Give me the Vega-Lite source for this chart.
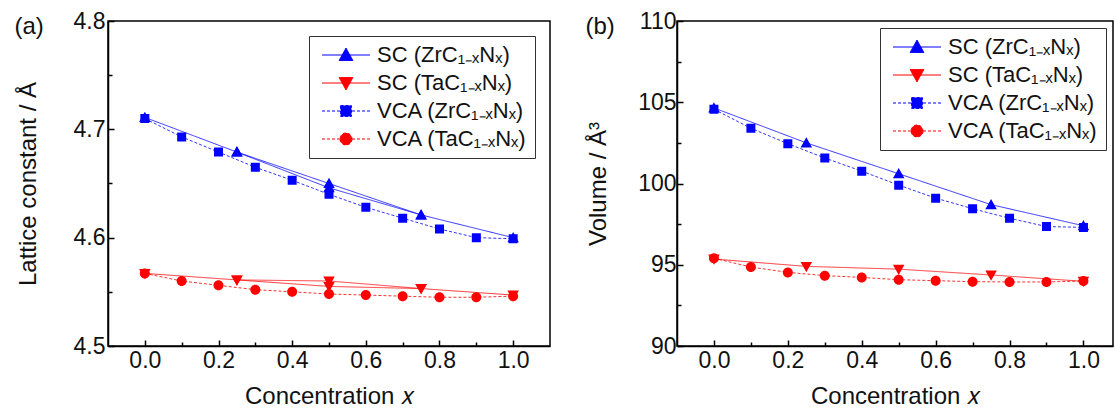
{
  "$schema": "https://vega.github.io/schema/vega-lite/v6.json",
  "padding": {"left": 13, "top": 9, "right": 0, "bottom": 0},
  "spacing": 33,
  "datasets": {
    "a": [
      {"s": "SC (ZrC₁₋ₓNₓ)", "x": 0, "y": 4.711, "p": 1},
      {"s": "SC (ZrC₁₋ₓNₓ)", "x": 0.25, "y": 4.679, "p": 1},
      {"s": "SC (ZrC₁₋ₓNₓ)", "x": 0.5, "y": 4.650, "p": 1},
      {"s": "SC (ZrC₁₋ₓNₓ)", "x": 0.75, "y": 4.621, "p": 1},
      {"s": "SC (ZrC₁₋ₓNₓ)", "x": 1, "y": 4.600, "p": 1},
      {"s": "SC (ZrC₁₋ₓNₓ)", "x": 0.25, "y": 4.679, "p": 2},
      {"s": "SC (ZrC₁₋ₓNₓ)", "x": 0.5, "y": 4.646, "p": 2},
      {"s": "SC (ZrC₁₋ₓNₓ)", "x": 0.75, "y": 4.621, "p": 2},
      {"s": "SC (TaC₁₋ₓNₓ)", "x": 0, "y": 4.567, "p": 1},
      {"s": "SC (TaC₁₋ₓNₓ)", "x": 0.25, "y": 4.561, "p": 1},
      {"s": "SC (TaC₁₋ₓNₓ)", "x": 0.5, "y": 4.560, "p": 1},
      {"s": "SC (TaC₁₋ₓNₓ)", "x": 0.75, "y": 4.553, "p": 1},
      {"s": "SC (TaC₁₋ₓNₓ)", "x": 1, "y": 4.547, "p": 1},
      {"s": "SC (TaC₁₋ₓNₓ)", "x": 0.25, "y": 4.561, "p": 2},
      {"s": "SC (TaC₁₋ₓNₓ)", "x": 0.5, "y": 4.555, "p": 2},
      {"s": "SC (TaC₁₋ₓNₓ)", "x": 0.75, "y": 4.553, "p": 2},
      {"s": "VCA (ZrC₁₋ₓNₓ)", "x": 0, "y": 4.710, "p": 1},
      {"s": "VCA (ZrC₁₋ₓNₓ)", "x": 0.1, "y": 4.693, "p": 1},
      {"s": "VCA (ZrC₁₋ₓNₓ)", "x": 0.2, "y": 4.679, "p": 1},
      {"s": "VCA (ZrC₁₋ₓNₓ)", "x": 0.3, "y": 4.665, "p": 1},
      {"s": "VCA (ZrC₁₋ₓNₓ)", "x": 0.4, "y": 4.653, "p": 1},
      {"s": "VCA (ZrC₁₋ₓNₓ)", "x": 0.5, "y": 4.640, "p": 1},
      {"s": "VCA (ZrC₁₋ₓNₓ)", "x": 0.6, "y": 4.628, "p": 1},
      {"s": "VCA (ZrC₁₋ₓNₓ)", "x": 0.7, "y": 4.618, "p": 1},
      {"s": "VCA (ZrC₁₋ₓNₓ)", "x": 0.8, "y": 4.608, "p": 1},
      {"s": "VCA (ZrC₁₋ₓNₓ)", "x": 0.9, "y": 4.600, "p": 1},
      {"s": "VCA (ZrC₁₋ₓNₓ)", "x": 1, "y": 4.599, "p": 1},
      {"s": "VCA (TaC₁₋ₓNₓ)", "x": 0, "y": 4.567, "p": 1},
      {"s": "VCA (TaC₁₋ₓNₓ)", "x": 0.1, "y": 4.560, "p": 1},
      {"s": "VCA (TaC₁₋ₓNₓ)", "x": 0.2, "y": 4.556, "p": 1},
      {"s": "VCA (TaC₁₋ₓNₓ)", "x": 0.3, "y": 4.552, "p": 1},
      {"s": "VCA (TaC₁₋ₓNₓ)", "x": 0.4, "y": 4.550, "p": 1},
      {"s": "VCA (TaC₁₋ₓNₓ)", "x": 0.5, "y": 4.548, "p": 1},
      {"s": "VCA (TaC₁₋ₓNₓ)", "x": 0.6, "y": 4.547, "p": 1},
      {"s": "VCA (TaC₁₋ₓNₓ)", "x": 0.7, "y": 4.546, "p": 1},
      {"s": "VCA (TaC₁₋ₓNₓ)", "x": 0.8, "y": 4.545, "p": 1},
      {"s": "VCA (TaC₁₋ₓNₓ)", "x": 0.9, "y": 4.545, "p": 1},
      {"s": "VCA (TaC₁₋ₓNₓ)", "x": 1, "y": 4.546, "p": 1}
    ],
    "b": [
      {"s": "SC (ZrC₁₋ₓNₓ)", "x": 0, "y": 104.65, "p": 1},
      {"s": "SC (ZrC₁₋ₓNₓ)", "x": 0.25, "y": 102.5, "p": 1},
      {"s": "SC (ZrC₁₋ₓNₓ)", "x": 0.5, "y": 100.6, "p": 1},
      {"s": "SC (ZrC₁₋ₓNₓ)", "x": 0.75, "y": 98.7, "p": 1},
      {"s": "SC (ZrC₁₋ₓNₓ)", "x": 1, "y": 97.4, "p": 1},
      {"s": "SC (TaC₁₋ₓNₓ)", "x": 0, "y": 95.35, "p": 1},
      {"s": "SC (TaC₁₋ₓNₓ)", "x": 0.25, "y": 94.9, "p": 1},
      {"s": "SC (TaC₁₋ₓNₓ)", "x": 0.5, "y": 94.73, "p": 1},
      {"s": "SC (TaC₁₋ₓNₓ)", "x": 0.75, "y": 94.37, "p": 1},
      {"s": "SC (TaC₁₋ₓNₓ)", "x": 1, "y": 93.98, "p": 1},
      {"s": "VCA (ZrC₁₋ₓNₓ)", "x": 0, "y": 104.57, "p": 1},
      {"s": "VCA (ZrC₁₋ₓNₓ)", "x": 0.1, "y": 103.4, "p": 1},
      {"s": "VCA (ZrC₁₋ₓNₓ)", "x": 0.2, "y": 102.45, "p": 1},
      {"s": "VCA (ZrC₁₋ₓNₓ)", "x": 0.3, "y": 101.57, "p": 1},
      {"s": "VCA (ZrC₁₋ₓNₓ)", "x": 0.4, "y": 100.76, "p": 1},
      {"s": "VCA (ZrC₁₋ₓNₓ)", "x": 0.5, "y": 99.9, "p": 1},
      {"s": "VCA (ZrC₁₋ₓNₓ)", "x": 0.6, "y": 99.1, "p": 1},
      {"s": "VCA (ZrC₁₋ₓNₓ)", "x": 0.7, "y": 98.45, "p": 1},
      {"s": "VCA (ZrC₁₋ₓNₓ)", "x": 0.8, "y": 97.86, "p": 1},
      {"s": "VCA (ZrC₁₋ₓNₓ)", "x": 0.9, "y": 97.35, "p": 1},
      {"s": "VCA (ZrC₁₋ₓNₓ)", "x": 1, "y": 97.3, "p": 1},
      {"s": "VCA (TaC₁₋ₓNₓ)", "x": 0, "y": 95.4, "p": 1},
      {"s": "VCA (TaC₁₋ₓNₓ)", "x": 0.1, "y": 94.86, "p": 1},
      {"s": "VCA (TaC₁₋ₓNₓ)", "x": 0.2, "y": 94.53, "p": 1},
      {"s": "VCA (TaC₁₋ₓNₓ)", "x": 0.3, "y": 94.33, "p": 1},
      {"s": "VCA (TaC₁₋ₓNₓ)", "x": 0.4, "y": 94.22, "p": 1},
      {"s": "VCA (TaC₁₋ₓNₓ)", "x": 0.5, "y": 94.08, "p": 1},
      {"s": "VCA (TaC₁₋ₓNₓ)", "x": 0.6, "y": 94.02, "p": 1},
      {"s": "VCA (TaC₁₋ₓNₓ)", "x": 0.7, "y": 93.96, "p": 1},
      {"s": "VCA (TaC₁₋ₓNₓ)", "x": 0.8, "y": 93.94, "p": 1},
      {"s": "VCA (TaC₁₋ₓNₓ)", "x": 0.9, "y": 93.94, "p": 1},
      {"s": "VCA (TaC₁₋ₓNₓ)", "x": 1, "y": 94.0, "p": 1}
    ]
  },
  "config": {
    "font": "Liberation Sans",
    "view": {"stroke": "black", "strokeWidth": 1.5},
    "axis": {
      "grid": false, "domainColor": "black", "domainWidth": 1.5,
      "tickColor": "black", "tickWidth": 1.5,
      "labelFont": "Liberation Sans", "labelFontSize": 23, "labelColor": "#111",
      "titleFont": "Liberation Sans", "titleFontSize": 24, "titleFontWeight": "normal", "titleColor": "#111"
    },
    "legend": {
      "title": null, "strokeColor": "#333", "strokeWidth": 1, "fillColor": "white",
      "padding": 8, "labelFont": "Liberation Sans", "labelFontSize": 22, "labelColor": "#111",
      "rowPadding": 6, "symbolSize": 144, "labelLimit": 0, "symbolOffset": 18, "labelOffset": 20,
      "symbolStrokeWidth": 1, "symbolOpacity": 1
    }
  },
  "resolve": {
    "scale": {"color": "independent", "shape": "independent", "strokeDash": "independent"},
    "legend": {"color": "independent", "shape": "independent", "strokeDash": "independent"}
  },
  "hconcat": [
    {
      "width": 442, "height": 325,
      "data": {"name": "a"},
      "resolve": {"axis": {"x": "independent"}},
      "encoding": {
        "x": {"field": "x", "type": "quantitative", "scale": {"domain": [-0.1, 1.1], "nice": false, "zero": false},
          "axis": {"title": "Concentration 𝑥", "orient": "bottom", "values": [0, 0.1, 0.2, 0.3, 0.4, 0.5, 0.6, 0.7, 0.8, 0.9, 1.0],
            "labelExpr": "round(datum.value*10) % 2 == 0 ? format(datum.value, '.1f') : ''",
            "tickSize": {"condition": {"test": "round(datum.value*10) % 2 == 0", "value": -6}, "value": -4},
            "labelPadding": 9, "titlePadding": 12}},
        "y": {"field": "y", "type": "quantitative", "scale": {"domain": [4.5, 4.8], "nice": false, "zero": false},
          "axis": {"title": "Lattice constant / Å", "values": [4.5, 4.55, 4.6, 4.65, 4.7, 4.75, 4.8],
            "labelExpr": "abs(datum.value*10 - round(datum.value*10)) < 0.001 ? format(datum.value, '.1f') : ''",
            "tickSize": {"condition": {"test": "abs(datum.value*10 - round(datum.value*10)) < 0.001", "value": -6}, "value": -4},
            "labelPadding": 9, "titlePadding": 33}},
        "color": {"field": "s", "type": "nominal",
          "scale": {"domain": ["SC (ZrC₁₋ₓNₓ)", "SC (TaC₁₋ₓNₓ)", "VCA (ZrC₁₋ₓNₓ)", "VCA (TaC₁₋ₓNₓ)"], "range": ["#0000ff", "#ff0000", "#0000ff", "#ff0000"]},
          "legend": {"orient": "top-right", "offset": 15}}
      },
      "layer": [
        {
          "mark": {"type": "line", "strokeWidth": 1, "opacity": 0.8},
          "encoding": {
            "detail": {"field": "p", "type": "nominal"},
            "strokeDash": {"field": "s", "type": "nominal",
              "scale": {"domain": ["SC (ZrC₁₋ₓNₓ)", "SC (TaC₁₋ₓNₓ)", "VCA (ZrC₁₋ₓNₓ)", "VCA (TaC₁₋ₓNₓ)"], "range": [[1, 0], [1, 0], [3, 2], [3, 2]]},
              "legend": {"orient": "top-right", "offset": 15}}
          }
        },
        {
          "mark": {"type": "point", "filled": true, "size": 100, "opacity": 1},
          "encoding": {
            "x": {"field": "x", "type": "quantitative", "scale": {"domain": [-0.1, 1.1], "nice": false, "zero": false},
              "axis": {"orient": "top", "title": "(a)", "labels": false, "ticks": false, "domain": false,
                "titleAngle": 0, "titleAnchor": "start", "titleAlign": "left", "titleBaseline": "middle", "titleX": -94, "titleY": 5}},
            "shape": {"field": "s", "type": "nominal",
              "scale": {"domain": ["SC (ZrC₁₋ₓNₓ)", "SC (TaC₁₋ₓNₓ)", "VCA (ZrC₁₋ₓNₓ)", "VCA (TaC₁₋ₓNₓ)"],
                "range": ["M-4,0L4,0M0,-1.15L1.15,0.9L-1.15,0.9Z", "M-4,0L4,0M0,1.15L1.15,-0.9L-1.15,-0.9Z", "M-4,0L4,0M-0.9,-0.9H0.9V0.9H-0.9Z", "M-4,0L4,0M1,0A1,1,0,1,1,-1,0A1,1,0,1,1,1,0Z"]},
              "legend": {"orient": "top-right", "offset": 15}}
          }
        }
      ]
    },
    {
      "width": 436, "height": 325,
      "data": {"name": "b"},
      "resolve": {"axis": {"x": "independent"}},
      "encoding": {
        "x": {"field": "x", "type": "quantitative", "scale": {"domain": [-0.1, 1.08], "nice": false, "zero": false},
          "axis": {"title": "Concentration 𝑥", "orient": "bottom", "values": [0, 0.1, 0.2, 0.3, 0.4, 0.5, 0.6, 0.7, 0.8, 0.9, 1.0],
            "labelExpr": "round(datum.value*10) % 2 == 0 ? format(datum.value, '.1f') : ''",
            "tickSize": {"condition": {"test": "round(datum.value*10) % 2 == 0", "value": -6}, "value": -4},
            "labelPadding": 9, "titlePadding": 12}},
        "y": {"field": "y", "type": "quantitative", "scale": {"domain": [90, 110], "nice": false, "zero": false},
          "axis": {"title": "Volume / Å³", "values": [90, 92.5, 95, 97.5, 100, 102.5, 105, 107.5, 110],
            "labelExpr": "datum.value % 5 == 0 ? datum.value : ''",
            "tickSize": {"condition": {"test": "datum.value % 5 == 0", "value": -6}, "value": -4},
            "labelPadding": 7, "titlePadding": 27}},
        "color": {"field": "s", "type": "nominal",
          "scale": {"domain": ["SC (ZrC₁₋ₓNₓ)", "SC (TaC₁₋ₓNₓ)", "VCA (ZrC₁₋ₓNₓ)", "VCA (TaC₁₋ₓNₓ)"], "range": ["#0000ff", "#ff0000", "#0000ff", "#ff0000"]},
          "legend": {"orient": "top-right", "offset": 7}}
      },
      "layer": [
        {
          "mark": {"type": "line", "strokeWidth": 1, "opacity": 0.8},
          "encoding": {
            "detail": {"field": "p", "type": "nominal"},
            "strokeDash": {"field": "s", "type": "nominal",
              "scale": {"domain": ["SC (ZrC₁₋ₓNₓ)", "SC (TaC₁₋ₓNₓ)", "VCA (ZrC₁₋ₓNₓ)", "VCA (TaC₁₋ₓNₓ)"], "range": [[1, 0], [1, 0], [3, 2], [3, 2]]},
              "legend": {"orient": "top-right", "offset": 7}}
          }
        },
        {
          "mark": {"type": "point", "filled": true, "size": 100, "opacity": 1},
          "encoding": {
            "x": {"field": "x", "type": "quantitative", "scale": {"domain": [-0.1, 1.08], "nice": false, "zero": false},
              "axis": {"orient": "top", "title": "(b)", "labels": false, "ticks": false, "domain": false,
                "titleAngle": 0, "titleAnchor": "start", "titleAlign": "left", "titleBaseline": "middle", "titleX": -92, "titleY": 5}},
            "shape": {"field": "s", "type": "nominal",
              "scale": {"domain": ["SC (ZrC₁₋ₓNₓ)", "SC (TaC₁₋ₓNₓ)", "VCA (ZrC₁₋ₓNₓ)", "VCA (TaC₁₋ₓNₓ)"],
                "range": ["M-4,0L4,0M0,-1.15L1.15,0.9L-1.15,0.9Z", "M-4,0L4,0M0,1.15L1.15,-0.9L-1.15,-0.9Z", "M-4,0L4,0M-0.9,-0.9H0.9V0.9H-0.9Z", "M-4,0L4,0M1,0A1,1,0,1,1,-1,0A1,1,0,1,1,1,0Z"]},
              "legend": {"orient": "top-right", "offset": 7}}
          }
        }
      ]
    }
  ]
}
